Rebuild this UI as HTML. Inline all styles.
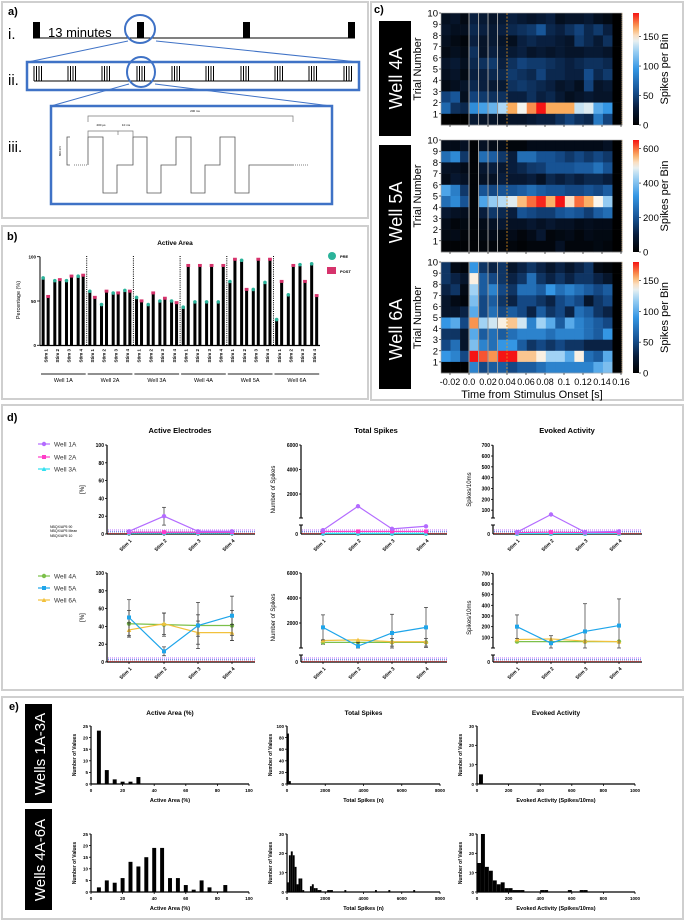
<!DOCTYPE html>
<html><head><meta charset="utf-8"><style>
html,body{margin:0;padding:0;background:#fff;}
svg{display:block;font-family:"Liberation Sans",Arial,sans-serif;}
</style></head><body>
<svg id="fig" width="685" height="922" viewBox="0 0 685 922" xmlns="http://www.w3.org/2000/svg"></svg>
<script>
// ---------- DATA ----------
const bWells=['Well 1A','Well 2A','Well 3A','Well 4A','Well 5A','Well 6A'];
const bStims=['Stim 1','Stim 2','Stim 3','Stim 4'];
const bPre=[76,73,73,78, 61,46,59,62, 54,46,50,50, 43,49,49,49, 72,96,63,71, 29,57,91,92];
const bPost=[55,74,78,79, 54,61,59,61, 50,59,53,48, 90,90,90,90, 97,63,97,97, 72,90,72,56];
const bTicks=[0,50,100];

const hm4A=[
[15,20,10,30,25,20,25,30,25,20,25,30,15,20,20,25,15,10,0],
[20,15,15,35,30,25,30,35,40,45,60,35,30,40,50,35,45,30,0],
[15,10,5,30,20,25,20,15,30,35,30,30,25,20,45,35,25,40,0],
[10,15,10,40,20,30,25,25,30,20,25,20,25,20,20,25,25,20,0],
[20,25,15,35,40,45,30,40,50,45,45,40,35,30,35,40,40,35,0],
[15,20,10,30,30,35,35,45,40,35,50,35,35,30,30,55,35,45,0],
[10,15,20,35,30,25,25,40,45,40,35,30,20,25,15,50,20,25,0],
[50,60,15,50,45,40,40,30,30,40,30,35,25,15,20,25,20,20,0],
[70,40,35,90,100,110,130,165,145,170,190,165,165,165,135,140,105,95,0],
[0,0,0,25,20,20,15,20,20,25,30,30,40,50,40,35,80,50,0]];
const hm5A=[
[40,40,60,10,60,40,40,20,20,40,40,40,40,40,40,40,40,60,0],
[250,300,150,10,250,220,150,100,250,250,200,200,180,150,180,150,180,150,0],
[60,60,40,10,80,100,80,100,120,150,160,200,200,200,220,220,260,200,0],
[40,80,60,10,60,60,100,80,80,100,60,120,100,120,100,120,120,100,0],
[350,280,150,10,200,180,200,200,220,250,220,200,200,180,180,200,180,220,0],
[250,300,200,10,350,420,450,480,550,600,640,560,650,520,600,560,500,420,0],
[80,60,50,10,100,150,120,100,200,180,160,160,200,220,200,160,220,250,0],
[40,20,30,10,40,60,80,60,60,80,60,80,60,60,40,50,40,40,0],
[30,40,20,10,30,40,30,40,20,40,80,20,30,40,20,40,30,30,0],
[10,10,10,10,20,20,20,20,10,20,20,20,60,20,20,20,30,20,0]];
const hm6A=[
[40,10,5,90,40,30,40,20,30,40,30,20,30,20,30,40,10,5,0],
[40,30,20,140,60,50,40,30,40,70,40,30,40,30,40,40,30,20,0],
[30,40,10,120,60,80,50,40,70,70,60,90,70,80,70,60,50,60,0],
[20,10,5,110,50,60,40,30,50,50,40,30,50,60,50,20,40,50,0],
[20,20,30,100,50,70,50,60,50,30,60,40,50,30,70,60,40,30,0],
[90,100,50,160,120,130,140,150,130,80,120,100,60,100,80,70,60,50,0],
[40,40,20,100,60,70,60,70,80,80,80,70,80,80,80,70,60,90,0],
[50,70,20,110,80,70,90,90,60,40,50,40,50,40,40,30,30,30,0],
[90,80,50,180,170,160,180,180,150,150,140,120,120,100,140,70,60,100,0],
[0,0,0,80,50,60,60,50,60,60,70,80,80,80,80,80,100,110,0]];
const hmTimeTicks=[-0.02,0.0,0.02,0.04,0.06,0.08,0.1,0.12,0.14,0.16];

const dStims=['Stim 1','Stim 2','Stim 3','Stim 4'];
const ae1A=[3,20,3,3], ae1Aerr=[1,10,1,1];
const ae2A=[2,2,2,2], ae3A=[1,1,1,1];
const ts1A=[300,1000,400,600], ts2A=[200,200,200,200], ts3A=[50,50,50,50];
const ev1A=[10,60,10,15], ev2A=[8,10,8,8], ev3A=[3,3,3,3];
const ae4A=[43,42,41,41], ae4Aerr=[15,13,12,17];
const ae5A=[50,12,41,52], ae5Aerr=[20,5,26,22];
const ae6A=[36,43,33,33], ae6Aerr=[8,12,13,9];
const ts4A=[450,450,450,450], ts4Aerr=[150,200,300,300];
const ts5A=[1650,150,1200,1650], ts5Aerr=[1000,300,1500,1600];
const ts6A=[600,650,500,500];
const ev4A=[60,60,60,60], ev5A=[200,45,155,210], ev5Aerr=[110,70,260,250], ev6A=[80,85,65,60];

const eAreaBins1=[5,10,15,20,25,30], eAreaCnt1=[23,6,2,1,1,3];
const eSpkBins1=[50,150], eSpkCnt1=[87,5];
const eEvBins1=[25], eEvCnt1=[5];
const eAreaBins2=[5,10,15,20,25,30,35,40,45,50,55,60,65,70,75,80,85];
const eAreaCnt2=[2,5,4,6,13,11,15,19,19,6,6,3,1,5,2,0,3];
const eSpkBins2=[50,150,250,350,450,550,650,750,850,1250,1350,1450,1550,1650,1750,2150,2250,2350,3050,4650,5350,6650];
const eSpkCnt2=[5,19,21,19,13,4,7,7,1,3,4,2,2,1,1,1,1,1,1,1,1,1];
const eEvBins2=[12.5,37.5,62.5,87.5,112.5,137.5,162.5,187.5,212.5,237.5,262.5,287.5,412.5,437.5,587.5,662.5,687.5];
const eEvCnt2=[15,30,13,11,6,4,5,2,2,1,1,1,1,1,1,1,1];

// ---------- HELPERS ----------
const NS='http://www.w3.org/2000/svg';
const svg=document.getElementById('fig');
function mk(tag,attrs,name,parent){
  const el=document.createElementNS(NS,tag);
  for(const k in attrs) el.setAttribute(k,attrs[k]);
  
  
  (parent||svg).appendChild(el);
  return el;
}
function tx(x,y,str,size,name,o){
  o=o||{};
  const a={x:x,y:y,'font-size':size,fill:o.fill||'#000'};
  if(o.anchor)a['text-anchor']=o.anchor;
  if(o.bold)a['font-weight']='bold';
  if(o.rot!==undefined)a.transform='rotate('+o.rot+' '+x+' '+y+')';
  const t=mk('text',a,name,o.parent);
  t.textContent=str;return t;
}
function ln(x1,y1,x2,y2,st,w,name,extra){
  const a={x1:x1,y1:y1,x2:x2,y2:y2,stroke:st,'stroke-width':w};
  if(extra)for(const k in extra)a[k]=extra[k];
  return mk('line',a,name);
}
function box(x,y,w,h,name){mk('rect',{x:x,y:y,width:w,height:h,fill:'none',stroke:'#cfcfcf','stroke-width':2},name);}

// ---------- PANEL BOXES ----------
box(2,2,366,216,'panel-a-frame');
box(2,226,366,173,'panel-b-frame');
box(371,2,312,398,'panel-c-frame');
box(2,405,681,285,'panel-d-frame');
box(2,697,681,222,'panel-e-frame');

// ---------- PANEL A ----------
const BL='#3f72c6';
tx(8,15,'a)',11,'panel-a-label',{bold:true});
tx(8,39,'i.',15,'row-i-label');
tx(8,85,'ii.',15,'row-ii-label');
tx(8,152,'iii.',15,'row-iii-label');
ln(33,38,355,38,'#000',1,'timeline-i');
[33,137,243,348].forEach((x,i)=>{mk('rect',{x:x,y:22,width:7,height:16,fill:'#000'},'stim-block-'+(i+1));});
tx(48,37,'13 minutes',13,'interval-label');
mk('ellipse',{cx:140,cy:29,rx:15,ry:14,fill:'none',stroke:BL,'stroke-width':2},'zoom-circle-i');
ln(128,41,28,62,BL,1,'zoom-line-i-left');ln(156,41,358,62,BL,1,'zoom-line-i-right');
mk('rect',{x:27,y:62,width:332,height:28,fill:'none',stroke:BL,'stroke-width':2.5},'train-box-ii');
ln(34,81,352,81,'#000',1,'timeline-ii');
[34,68,102,137,172,206,241,275,309,344].forEach((x,g)=>{for(let k=0;k<4;k++)ln(x+k*2.5,66,x+k*2.5,81,'#000',1,'pulse-tick');});
mk('ellipse',{cx:141,cy:72,rx:14,ry:15,fill:'none',stroke:BL,'stroke-width':2},'zoom-circle-ii');
ln(129,84,51,106,BL,1,'zoom-line-ii-left');ln(155,84,331,106,BL,1,'zoom-line-ii-right');
mk('rect',{x:51,y:106,width:281,height:98,fill:'none',stroke:BL,'stroke-width':2.5},'waveform-box-iii');
mk('polyline',{points:'88,165 88,137 103,137 103,193 117,193 117,165 133,165 133,137 147,137 147,193 161,193 161,165 176,165 176,137 191,137 191,193 205,193 205,165 220,165 220,137 235,137 235,193 249,193 249,165 293,165',fill:'none',stroke:'#555','stroke-width':0.8},'biphasic-waveform');
ln(74,165,88,165,'#555',0.8,'waveform-lead-dots',{'stroke-dasharray':'1,1'});
ln(293,165,308,165,'#555',0.8,'waveform-tail-dots',{'stroke-dasharray':'1,1'});
mk('polyline',{points:'70,137 67,137 67,165 70,165',fill:'none',stroke:'#555','stroke-width':0.8},'amplitude-bracket');
tx(61,151,'800 mV',3,'amplitude-label',{anchor:'middle',rot:-90});
mk('polyline',{points:'88,122 88,116 293,116 293,122',fill:'none',stroke:'#777','stroke-width':0.7},'train-duration-bracket');
tx(195,112,'200 ms',3,'train-duration-label',{anchor:'middle'});
mk('polyline',{points:'88,137 88,131 133,131 133,137',fill:'none',stroke:'#777','stroke-width':0.7},'pulse-bracket');
ln(118,131,118,135,'#777',0.7,'pulse-bracket-mid');
tx(101,126,'200 µs',3,'pulse-width-label',{anchor:'middle'});
tx(126,126,'10 ms',3,'pulse-interval-label',{anchor:'middle'});

// ---------- PANEL B ----------
tx(7,240,'b)',11,'panel-b-label',{bold:true});
tx(175,245,'Active  Area',6.5,'panel-b-title',{anchor:'middle',bold:true});
const by=v=>345.3-v*0.886;
ln(40,by(100),40,345.5,'#000',1,'b-y-axis');
ln(40,345.5,320,345.5,'#000',1.2,'b-x-axis');
bTicks.forEach(t=>{ln(37,by(t),40,by(t),'#000',0.8,'b-y-tick');tx(36,by(t)+1.8,String(t),4.5,'b-y-tick-label',{anchor:'end',bold:true});});
tx(20,300,'Percentage (%)',5.5,'b-y-title',{anchor:'middle',rot:-90});
const wW=46.7,sW=wW/4;
bWells.forEach((w,wi)=>{
  const x0=40+wi*wW;
  if(wi>0)ln(x0,256,x0,345,'#000',1,'well-separator',{'stroke-dasharray':'1,1.2'});
  ln(x0+1,374,x0+wW-1,374,'#222',1,'well-bracket');
  tx(x0+wW/2,382,w,5.5,'well-label',{anchor:'middle'});
  bStims.forEach((s,si)=>{
    const i=wi*4+si, c=x0+(si+0.5)*sW;
    const pv=bPre[i], qv=bPost[i];
    mk('rect',{x:c-4.2,y:by(pv),width:3,height:345.3-by(pv),fill:'#000'},'bar-pre-'+w.replace(' ','')+'-s'+(si+1));
    mk('rect',{x:c+0.8,y:by(qv),width:3,height:345.3-by(qv),fill:'#000'},'bar-post-'+w.replace(' ','')+'-s'+(si+1));
    mk('circle',{cx:c-2.7,cy:by(pv),r:1.8,fill:'#2bb39a'},'pre-marker');
    mk('rect',{x:c+0.4,y:by(qv)-1.6,width:3.8,height:3,fill:'#d6336c'},'post-marker');
    tx(c+1.5,349,s,4.5,'b-stim-label',{anchor:'end',rot:-90,bold:true});
  });
});
mk('circle',{cx:332,cy:256,r:4,fill:'#2bb39a'},'legend-pre-marker');
tx(340,258,'PRE',4,'legend-pre-label',{bold:true});
mk('rect',{x:327,y:267,width:9,height:7,fill:'#d6336c'},'legend-post-marker');
tx(340,273,'POST',4,'legend-post-label',{bold:true});

// ---------- PANEL C ----------
tx(374,13,'c)',11,'panel-c-label',{bold:true});
const cmStops=[[0,[0,0,0]],[0.15,[8,28,58]],[0.3,[22,80,145]],[0.5,[52,150,228]],[0.68,[170,215,245]],[0.77,[250,246,238]],[0.87,[250,170,90]],[1,[245,20,20]]];
function cmap(t){t=Math.max(0,Math.min(1,t));for(let i=1;i<cmStops.length;i++){if(t<=cmStops[i][0]){const a=cmStops[i-1],b=cmStops[i];const f=(t-a[0])/(b[0]-a[0]);return 'rgb('+a[1].map((v,k)=>Math.round(v+(b[1][k]-v)*f)).join(',')+')';}}return 'rgb(245,20,20)';}
const defs=mk('defs',{},'defs');
const grad=mk('linearGradient',{id:'cbar',x1:0,y1:1,x2:0,y2:0},'colorbar-gradient',defs);
for(let i=0;i<=20;i++){mk('stop',{offset:(i/20),'stop-color':cmap(i/20)},'gradient-stop',grad);}
const hx0=441,hx1=622,cw=(hx1-hx0)/19;
const tx2x=t=>469+t/0.02*19;
function heat(data,y0,y1,vmax,ticks,well,boxY0,boxY1){
  const rh=(y1-y0)/10;
  data.forEach((row,r)=>row.forEach((v,c)=>{
    mk('rect',{x:hx0+c*cw,y:y0+r*rh,width:cw+0.3,height:rh+0.3,fill:cmap(v/vmax)},'heatmap-cell-'+well);
  }));
  [0,0.01,0.02,0.03].forEach(t=>ln(tx2x(t),y0,tx2x(t),y1,'#9a9a9a',1,'stim-pulse-line'));
  ln(tx2x(0.04),y0,tx2x(0.04),y1,'#e8961e',0.8,'window-end-line',{'stroke-dasharray':'2,1.5'});
  ln(hx1,y0,hx1,y1,'#e8961e',0.8,'right-limit-line',{'stroke-dasharray':'1,1'});
  mk('rect',{x:hx0,y:y0,width:hx1-hx0,height:y1-y0,fill:'none',stroke:'#aaa','stroke-width':0.6},'heatmap-frame-'+well);
  for(let k=1;k<=10;k++){const yy=y1-k*rh;ln(hx0-2,yy,hx0,yy,'#000',0.6,'trial-tick');tx(hx0-3,yy+3.5,String(k),9.5,'trial-tick-label',{anchor:'end'});}
  hmTimeTicks.forEach(t=>ln(tx2x(t),y1,tx2x(t),y1+2,'#000',0.6,'time-tick'));
  tx(421,(y0+y1)/2,'Trial Number',11,'trial-axis-title',{anchor:'middle',rot:-90});
  mk('rect',{x:379,y:boxY0,width:32,height:boxY1-boxY0,fill:'#000'},'well-tag-'+well);
  tx(402,(boxY0+boxY1)/2,'Well '+well,18,'well-tag-text',{anchor:'middle',rot:-90,fill:'#fff'});
  mk('rect',{x:633,y:y0,width:6,height:y1-y0,fill:'url(#cbar)'},'colorbar-'+well);
  ticks.forEach(t=>{const yy=y1-t/vmax*(y1-y0);ln(639,yy,641,yy,'#000',0.6,'colorbar-tick');tx(643,yy+3.5,String(t),9.5,'colorbar-tick-label');});
  tx(668,(y0+y1)/2,'Spikes per Bin',11,'colorbar-title',{anchor:'middle',rot:-90});
}
heat(hm4A,13,125,190,[0,50,100,150],'4A',21,136);
heat(hm5A,140,252,650,[0,200,400,600],'5A',145,280);
heat(hm6A,262,373,180,[0,50,100,150],'6A',270,389);
hmTimeTicks.forEach(t=>tx(tx2x(t),385,(t===0?'0.0':String(t)),9,'time-tick-label',{anchor:'middle'}));
tx(532,398,'Time from Stimulus Onset [s]',11,'time-axis-title',{anchor:'middle'});

// ---------- PANEL D ----------
tx(7,421,'d)',11,'panel-d-label',{bold:true});
const C={'1A':'#b36bff','2A':'#ff3cc8','3A':'#30e0f0','4A':'#7cc04a','5A':'#1ea5ea','6A':'#f2c13c'};
function axisD(ax,top0,yf,ticks,brk,stimX,label,labelX,axisEnd,nm){
  if(brk){ln(ax,yf(ticks[ticks.length-1]),ax,brk[0],'#000',1.2,nm+'-y-axis-upper');ln(ax,brk[1],ax,top0,'#000',1.2,nm+'-y-axis-lower');
    ln(ax-2,brk[0],ax+2,brk[0],'#000',1,'axis-break');ln(ax-2,brk[1],ax+2,brk[1],'#000',1,'axis-break');}
  else ln(ax,yf(ticks[ticks.length-1]),ax,top0,'#000',1.2,nm+'-y-axis');
  ln(ax,top0,axisEnd,top0,'#000',1.2,nm+'-x-axis');
  ticks.forEach(t=>{ln(ax-2,yf(t),ax,yf(t),'#000',0.8,'y-tick');tx(ax-3,yf(t)+2,String(t),5,'y-tick-label',{anchor:'end',bold:true});});
  if(brk){tx(ax-3,top0+2,'0',5,'y-tick-label',{anchor:'end',bold:true});}
  tx(labelX,(yf(ticks[ticks.length-1])+top0)/2,label,6,nm+'-y-title',{anchor:'middle',rot:-90});
  stimX.forEach((x,i)=>{ln(x,top0,x,top0+2,'#000',0.8,'x-tick');tx(x+3,top0+7,dStims[i],5,'stim-tick-label',{anchor:'end',rot:-45,bold:true});});
  [[C['1A'],-4],['#4a6fe0',-2.2],['#e03030',-0.6]].forEach(([c,o])=>ln(ax+1,top0+o,axisEnd,top0+o,c,1,'nbqx-baseline',{'stroke-dasharray':'1,1'}));
}
function series(xs,vals,yf,col,name,err,shape){
  const pts=vals.map((v,i)=>xs[i]+','+yf(v)).join(' ');
  if(err)vals.forEach((v,i)=>{const x=xs[i];ln(x,yf(v+err[i]),x,yf(Math.max(0,v-err[i])),'#333',0.7,'error-bar-'+name);ln(x-2,yf(v+err[i]),x+2,yf(v+err[i]),'#333',0.7,'error-cap');ln(x-2,yf(Math.max(0,v-err[i])),x+2,yf(Math.max(0,v-err[i])),'#333',0.7,'error-cap');});
  mk('polyline',{points:pts,fill:'none',stroke:col,'stroke-width':1.2},'line-'+name);
  vals.forEach((v,i)=>{
    if(shape==='sq')mk('rect',{x:xs[i]-2,y:yf(v)-2,width:4,height:4,fill:col},'point-'+name);
    else if(shape==='tri')mk('polygon',{points:(xs[i]-2.3)+','+(yf(v)+2)+' '+(xs[i]+2.3)+','+(yf(v)+2)+' '+xs[i]+','+(yf(v)-2.3),fill:col},'point-'+name);
    else mk('circle',{cx:xs[i],cy:yf(v),r:2.2,fill:col},'point-'+name);
  });
}
const x1s=[129,164,198,232], x2s=[323,358,392,426], x3s=[517,551,585,619];
tx(180,433,'Active Electrodes',7.5,'d-title-active-electrodes',{anchor:'middle',bold:true});
tx(376,433,'Total Spikes',7.5,'d-title-total-spikes',{anchor:'middle',bold:true});
tx(567,433,'Evoked Activity',7.5,'d-title-evoked-activity',{anchor:'middle',bold:true});
// top row
const yA1=v=>534-v*0.89;
const yT2=v=>v<=700?534-v/700*9:518.5-v*0.01225;
const yT3=v=>v<=50?534-v/50*9:521-v*0.1083;
axisD(107,534,yA1,[0,20,40,60,80,100],null,x1s,'[%]',84,255,'d-top-active');
axisD(301,534,yT2,[2000,4000,6000],[518,525],x2s,'Number of Spikes',275,447,'d-top-spikes');
axisD(493,534,yT3,[100,200,300,400,500,600,700],[518,525],x3s,'Spikes/10ms',471,642,'d-top-evoked');
tx(50,528,'NBQX/AP5 90',3.5,'nbqx-90-label');tx(50,532,'NBQX/AP5 Mean',3.5,'nbqx-mean-label');tx(50,537,'NBQX/AP5 10',3.5,'nbqx-10-label');
series(x1s,ae3A,yA1,C['3A'],'ae-3A',null,'tri');series(x1s,ae2A,yA1,C['2A'],'ae-2A',null,'sq');series(x1s,ae1A,yA1,C['1A'],'ae-1A',ae1Aerr,'c');
series(x2s,ts3A,yT2,C['3A'],'ts-3A',null,'tri');series(x2s,ts2A,yT2,C['2A'],'ts-2A',null,'sq');series(x2s,ts1A,yT2,C['1A'],'ts-1A',null,'c');
series(x3s,ev3A,yT3,C['3A'],'ev-3A',null,'tri');series(x3s,ev2A,yT3,C['2A'],'ev-2A',null,'sq');series(x3s,ev1A,yT3,C['1A'],'ev-1A',null,'c');
// bottom row
const yB1=v=>662-v*0.89;
const yB2=v=>648-v*0.0125;
const yB3=v=>648-v*0.1067;
axisD(107,662,yB1,[0,20,40,60,80,100],null,x1s,'[%]',84,255,'d-bot-active');
axisD(301,662,yB2,[2000,4000,6000],[648,655],x2s,'Number of Spikes',275,447,'d-bot-spikes');
axisD(493,662,yB3,[100,200,300,400,500,600,700],[648,655],x3s,'Spikes/10ms',471,642,'d-bot-evoked');
series(x1s,ae4A,yB1,C['4A'],'ae-4A',ae4Aerr,'c');series(x1s,ae6A,yB1,C['6A'],'ae-6A',ae6Aerr,'tri');series(x1s,ae5A,yB1,C['5A'],'ae-5A',ae5Aerr,'sq');
series(x2s,ts4A,yB2,C['4A'],'ts-4A',ts4Aerr,'c');series(x2s,ts6A,yB2,C['6A'],'ts-6A',null,'tri');series(x2s,ts5A,yB2,C['5A'],'ts-5A',ts5Aerr,'sq');
series(x3s,ev4A,yB3,C['4A'],'ev-4A',null,'c');series(x3s,ev6A,yB3,C['6A'],'ev-6A',null,'tri');series(x3s,ev5A,yB3,C['5A'],'ev-5A',ev5Aerr,'sq');
// legends
[['1A',444,'c'],['2A',457,'sq'],['3A',469,'tri'],['4A',576,'c'],['5A',588,'sq'],['6A',600,'tri']].forEach(([w,y,s])=>{
  ln(38,y,50,y,C[w],1.2,'legend-line-'+w);
  if(s==='sq')mk('rect',{x:42,y:y-2,width:4,height:4,fill:C[w]},'legend-marker-'+w);
  else if(s==='tri')mk('polygon',{points:'41.7,'+(y+2)+' 46.3,'+(y+2)+' 44,'+(y-2.3),fill:C[w]},'legend-marker-'+w);
  else mk('circle',{cx:44,cy:y,r:2.2,fill:C[w]},'legend-marker-'+w);
  tx(54,y+2.5,'Well '+w,6.5,'legend-label-'+w,{fill:'#333'});
});

// ---------- PANEL E ----------
tx(9,710,'e)',11,'panel-e-label',{bold:true});
mk('rect',{x:25,y:704,width:27,height:99,fill:'#000'},'group-tag-1A-3A');
tx(45,754,'Wells 1A-3A',15,'group-tag-text',{anchor:'middle',rot:-90,fill:'#fff'});
mk('rect',{x:25,y:809,width:27,height:101,fill:'#000'},'group-tag-4A-6A');
tx(45,860,'Wells 4A-6A',15,'group-tag-text',{anchor:'middle',rot:-90,fill:'#fff'});
function hist(x0,x1,xmax,xticks,yb,yt,ymax,yticks,bins,cnts,bw,barFrac,xlabel,title,nm){
  const xs=v=>x0+v/xmax*(x1-x0), ys=v=>yb-v/ymax*(yb-yt);
  bins.forEach((b,i)=>{const w=bw/xmax*(x1-x0)*barFrac;mk('rect',{x:xs(b)-w/2,y:ys(cnts[i]),width:w,height:yb-ys(cnts[i]),fill:'#000'},'hist-bar-'+nm);});
  ln(x0,yt,x0,yb,'#000',1.2,nm+'-y-axis');ln(x0,yb,x1,yb,'#000',1.2,nm+'-x-axis');
  yticks.forEach(t=>{ln(x0-2,ys(t),x0,ys(t),'#000',0.8,'y-tick');tx(x0-3,ys(t)+1.8,String(t),4.5,'y-tick-label',{anchor:'end',bold:true});});
  xticks.forEach(t=>{ln(xs(t),yb,xs(t),yb+2,'#000',0.8,'x-tick');tx(xs(t),yb+8,String(t),4.5,'x-tick-label',{anchor:'middle',bold:true});});
  tx((x0+x1)/2,yb+18,xlabel,5.5,nm+'-x-title',{anchor:'middle',bold:true});
  tx(x0-15,(yt+yb)/2,'Number of Values',5,nm+'-y-title',{anchor:'middle',rot:-90,bold:true});
  if(title)tx((x0+x1)/2,yt-11,title,6.5,nm+'-title',{anchor:'middle',bold:true});
}
hist(91,249,100,[0,20,40,60,80,100],784,726,25,[0,5,10,15,20,25],eAreaBins1,eAreaCnt1,5,0.5,'Active Area (%)','Active Area (%)','e-area-1');
hist(287,440,8000,[0,2000,4000,6000,8000],784,726,100,[0,20,40,60,80,100],eSpkBins1,eSpkCnt1,100,1,'Total Spikes (n)','Total Spikes','e-spikes-1');
hist(477,635,1000,[0,200,400,600,800,1000],784,726,30,[0,10,20,30],eEvBins1,eEvCnt1,25,1,'Evoked Activity (Spikes/10ms)','Evoked Activity','e-evoked-1');
hist(91,249,100,[0,20,40,60,80,100],892,834,25,[0,5,10,15,20,25],eAreaBins2,eAreaCnt2,5,0.5,'Active Area (%)',null,'e-area-2');
hist(287,440,8000,[0,2000,4000,6000,8000],892,834,30,[0,10,20,30],eSpkBins2,eSpkCnt2,100,1,'Total Spikes (n)',null,'e-spikes-2');
hist(477,635,1000,[0,200,400,600,800,1000],892,834,30,[0,10,20,30],eEvBins2,eEvCnt2,25,1,'Evoked Activity (Spikes/10ms)',null,'e-evoked-2');
</script>
</body></html>
